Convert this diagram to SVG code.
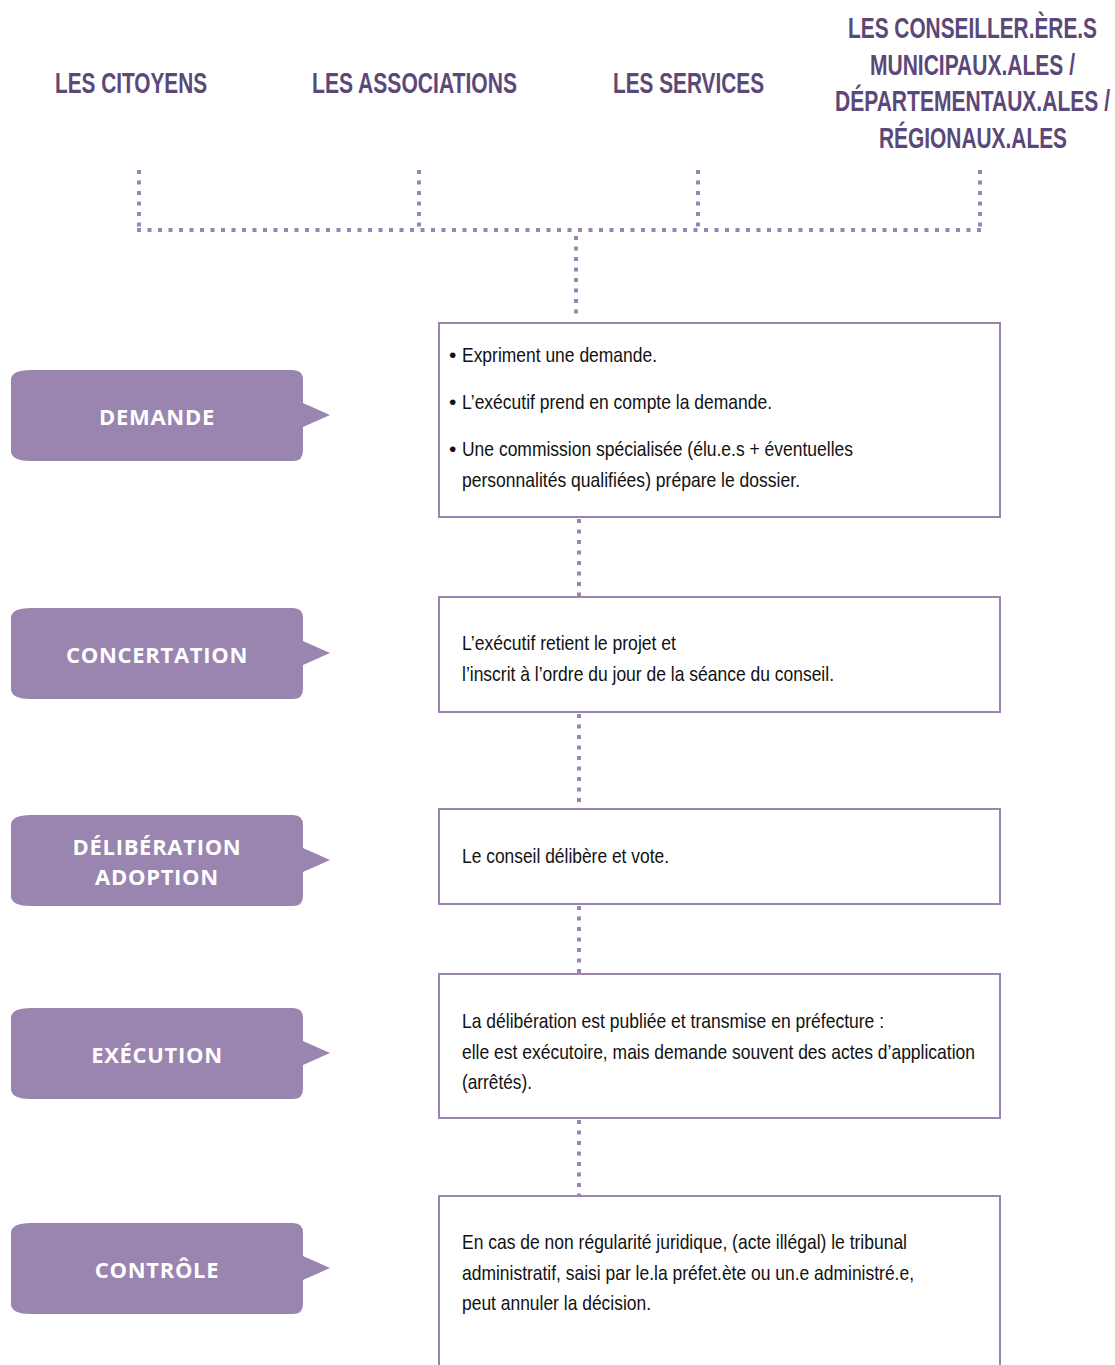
<svg xmlns="http://www.w3.org/2000/svg" width="1115" height="1365" viewBox="0 0 1115 1365">
<style>
.hdr{font-family:"Liberation Sans",Arial,sans-serif;font-weight:bold;font-size:29px;fill:#5b4878}
.dot{stroke:#9b84b1;stroke-width:4;stroke-dasharray:4 6.5;fill:none}
.box{fill:#fff;stroke:#9b84b1;stroke-width:2}
.pill{fill:#9a84b0}
.pt{font-family:"Open Sans","Liberation Sans",sans-serif;font-weight:bold;font-size:22px;fill:#fff;text-anchor:middle;letter-spacing:0.7px}
.bt{font-family:"Liberation Sans",Arial,sans-serif;font-size:21px;fill:#111}
</style>
<defs>
<path id="pillshape" d="M21,0 H283 Q293,0 293,10 V33 L320,45 L293,57 V81 Q293,91 283,91 H21 Q1,91 1,81 V10 Q1,0 21,0 Z"/>
</defs>
<g id="headers">
<g id="h-citoyens"><text class="hdr" x="55" y="93" textLength="152" lengthAdjust="spacingAndGlyphs">LES CITOYENS</text></g>
<g id="h-associations"><text class="hdr" x="312" y="93" textLength="205" lengthAdjust="spacingAndGlyphs">LES ASSOCIATIONS</text></g>
<g id="h-services"><text class="hdr" x="613" y="93" textLength="151" lengthAdjust="spacingAndGlyphs">LES SERVICES</text></g>
<g id="h-conseillers">
<text class="hdr" x="848" y="38" textLength="249" lengthAdjust="spacingAndGlyphs">LES CONSEILLER.ÈRE.S</text>
<text class="hdr" x="870" y="75" textLength="205" lengthAdjust="spacingAndGlyphs">MUNICIPAUX.ALES /</text>
<text class="hdr" x="835" y="111" textLength="275" lengthAdjust="spacingAndGlyphs">DÉPARTEMENTAUX.ALES /</text>
<text class="hdr" x="879" y="148" textLength="188" lengthAdjust="spacingAndGlyphs">RÉGIONAUX.ALES</text>
</g>
</g>
<g id="connectors">
<path class="dot" d="M139,170 V228"/>
<path class="dot" d="M419,170 V228"/>
<path class="dot" d="M698,170 V228"/>
<path class="dot" d="M980,170 V228"/>
<path class="dot" d="M137,230 H986"/>
<path class="dot" d="M576,236 V316"/>
<path class="dot" d="M579,519 V596"/>
<path class="dot" d="M579,714 V808"/>
<path class="dot" d="M579,906 V973"/>
<path class="dot" d="M579,1120 V1195"/>
</g>
<g id="pill-demande"><use href="#pillshape" class="pill" x="10" y="370"/><text class="pt" x="157" y="425">DEMANDE</text></g>
<g id="pill-concertation"><use href="#pillshape" class="pill" x="10" y="608"/><text class="pt" x="157" y="663">CONCERTATION</text></g>
<g id="pill-deliberation"><use href="#pillshape" class="pill" x="10" y="815"/><text class="pt" x="157" y="855">DÉLIBÉRATION</text><text class="pt" x="157" y="885">ADOPTION</text></g>
<g id="pill-execution"><use href="#pillshape" class="pill" x="10" y="1008"/><text class="pt" x="157" y="1063">EXÉCUTION</text></g>
<g id="pill-controle"><use href="#pillshape" class="pill" x="10" y="1223"/><text class="pt" x="157" y="1278">CONTRÔLE</text></g>
<g id="box-demande"><rect class="box" x="439" y="323" width="561" height="194"/>
<text class="bt" x="449" y="362">•</text><text class="bt" x="462" y="362" textLength="195" lengthAdjust="spacingAndGlyphs">Expriment une demande.</text>
<text class="bt" x="449" y="409">•</text><text class="bt" x="462" y="409" textLength="310" lengthAdjust="spacingAndGlyphs">L’exécutif prend en compte la demande.</text>
<text class="bt" x="449" y="456">•</text><text class="bt" x="462" y="456" textLength="391" lengthAdjust="spacingAndGlyphs">Une commission spécialisée (élu.e.s + éventuelles</text>
<text class="bt" x="462" y="487" textLength="338" lengthAdjust="spacingAndGlyphs">personnalités qualifiées) prépare le dossier.</text>
</g>
<g id="box-concertation"><rect class="box" x="439" y="597" width="561" height="115"/>
<text class="bt" x="462" y="650" textLength="214" lengthAdjust="spacingAndGlyphs">L’exécutif retient le projet et</text>
<text class="bt" x="462" y="681" textLength="372" lengthAdjust="spacingAndGlyphs">l’inscrit à l’ordre du jour de la séance du conseil.</text>
</g>
<g id="box-deliberation"><rect class="box" x="439" y="809" width="561" height="95"/>
<text class="bt" x="462" y="863" textLength="207" lengthAdjust="spacingAndGlyphs">Le conseil délibère et vote.</text>
</g>
<g id="box-execution"><rect class="box" x="439" y="974" width="561" height="144"/>
<text class="bt" x="462" y="1028" textLength="422" lengthAdjust="spacingAndGlyphs">La délibération est publiée et transmise en préfecture :</text>
<text class="bt" x="462" y="1059" textLength="513" lengthAdjust="spacingAndGlyphs">elle est exécutoire, mais demande souvent des actes d’application</text>
<text class="bt" x="462" y="1089" textLength="70" lengthAdjust="spacingAndGlyphs">(arrêtés).</text>
</g>
<g id="box-controle"><rect class="box" x="439" y="1196" width="561" height="180"/>
<text class="bt" x="462" y="1249" textLength="445" lengthAdjust="spacingAndGlyphs">En cas de non régularité juridique, (acte illégal) le tribunal</text>
<text class="bt" x="462" y="1280" textLength="452" lengthAdjust="spacingAndGlyphs">administratif, saisi par le.la préfet.ète ou un.e administré.e,</text>
<text class="bt" x="462" y="1310" textLength="189" lengthAdjust="spacingAndGlyphs">peut annuler la décision.</text>
</g>
</svg>
